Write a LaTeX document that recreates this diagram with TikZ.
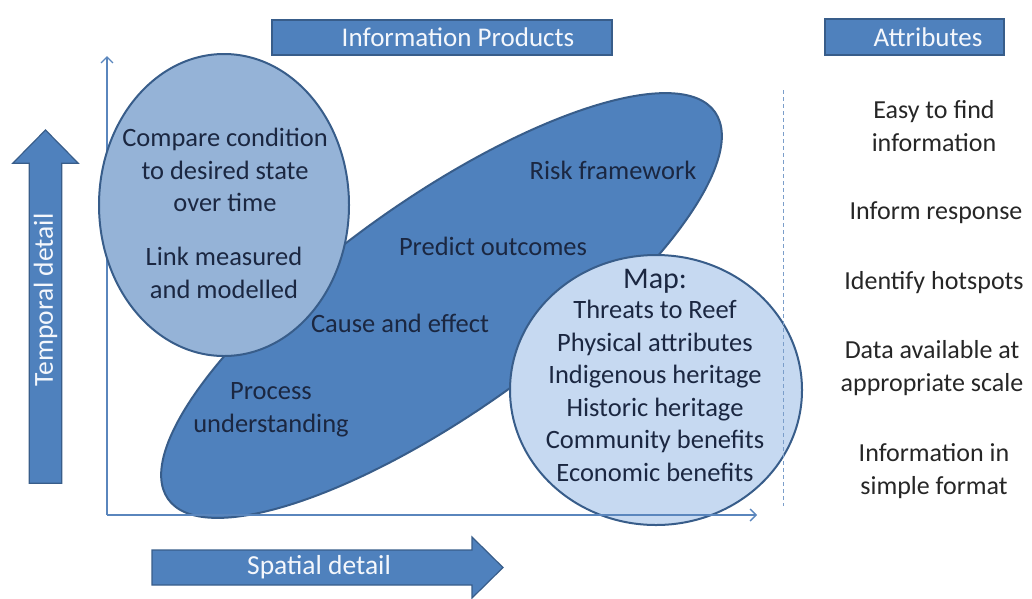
\documentclass[tikz,border=0pt]{standalone}
\usepackage{fontspec}
\setmainfont{Carlito}
\usetikzlibrary{shapes.geometric,arrows.meta}
\definecolor{midblue}{HTML}{4F81BD}
\definecolor{edgeblue}{HTML}{385D8A}
\definecolor{ltblue}{HTML}{95B3D7}
\definecolor{paleblue}{HTML}{C6D9F1}
\definecolor{ink}{HTML}{1B2741}
\definecolor{axisblue}{HTML}{5A86BD}
\definecolor{whitetxt}{HTML}{F4F7FC}
\begin{document}
\begin{tikzpicture}[x=1pt,y=-1pt,
  body/.style={font=\fontsize{26.5}{32.5}\selectfont, text=ink, align=center, inner sep=0pt},
  attr/.style={font=\fontsize{26}{33}\selectfont, text=black!85, align=center, inner sep=0pt},
  header/.style={draw=edgeblue, line width=1.2pt, fill=midblue, inner sep=0pt},
  headertext/.style={text=whitetxt, font=\fontsize{27}{30}\selectfont, inner sep=0pt},
  blob/.style={ellipse, draw=edgeblue, line width=2pt, inner sep=0pt},
  axisline/.style={draw=axisblue, line width=1.6pt, -{Straight Barb[length=6pt,width=12pt,line width=1.4pt]}},
  bigarrow/.style={fill=midblue, draw=edgeblue, line width=1.2pt},
  arrowtext/.style={text=whitetxt, font=\fontsize{27.5}{30}\selectfont, inner sep=0pt}
]
\useasboundingbox (0,0) rectangle (1032,598);

% axes coordinates
\coordinate (origin) at (107,515);
\coordinate (ytip) at (107,56);
\coordinate (xtip) at (757,515);

% vertical axis (behind the circles)
\draw[axisline] (origin) -- (ytip);

% big rotated ellipse
\node[blob, fill=midblue, minimum width=670pt, minimum height=214pt, rotate=35.3] (big) at (441.5,305.5) {};
% left circle
\node[blob, fill=ltblue, minimum width=250pt, minimum height=302pt] (left) at (224,205) {};
% right circle
\node[blob, fill=paleblue, minimum width=292pt, minimum height=270pt] (right) at (656,390) {};

% horizontal axis (on top)
\draw[axisline] (origin) -- (xtip);

% dashed separator
\coordinate (dtop) at (783,90);
\coordinate (dbot) at (783,506);
\draw[axisblue!80, line width=0.9pt, dash pattern=on 4pt off 3pt] (dtop) -- (dbot);

% headers
\node[header, minimum width=340pt, minimum height=35pt] (hprod) at (442,37.5) {};
\node[headertext] (hprodtext) at (458,37.5) {Information Products};
\node[header, minimum width=179pt, minimum height=36pt] (hattr) at (914.5,37) {};
\node[headertext] (hattrtext) at (928,37) {Attributes};

% left circle texts
\node[body] (compare) at (225,170) {Compare condition\\to desired state\\over time};
\node[body] (link) at (224,273) {Link measured\\and modelled};

% big ellipse texts
\node[body] (risk) at (613,170) {Risk framework};
\node[body] (predict) at (493,246) {Predict outcomes};
\node[body] (cause) at (400,323) {Cause and effect};
\node[body] (process) at (271,410) {Process\\understanding};

% right circle texts
\node[body, font=\fontsize{30}{32.5}\selectfont] (map) at (655,281) {Map:};
\node[body] (maplist) at (655,391) {Threats to Reef\\Physical attributes\\Indigenous heritage\\Historic heritage\\Community benefits\\Economic benefits};

% attributes
\node[attr] (a1) at (934,126.5) {Easy to find\\information};
\node[attr] (a2) at (936,213) {Inform response};
\node[attr] (a3) at (934,283) {Identify hotspots};
\node[attr] (a4) at (932,368.5) {Data available at\\appropriate scale};
\node[attr] (a5) at (934,471) {Information in\\simple format};

% temporal arrow
\draw[bigarrow] (29.3,483.3) -- (29.3,163.3) -- (12.7,163.3) -- (45.5,130) -- (78.3,163.3) -- (61.7,163.3) -- (61.7,483.3) -- cycle;
\node[arrowtext, rotate=90] (temporal) at (45.5,300) {Temporal detail};

% spatial arrow
\draw[bigarrow] (152,550) -- (472,550) -- (472,537) -- (503,567.5) -- (472,598) -- (472,585) -- (152,585) -- cycle;
\node[arrowtext] (spatial) at (319,567.5) {Spatial detail};
\end{tikzpicture}
\end{document}
